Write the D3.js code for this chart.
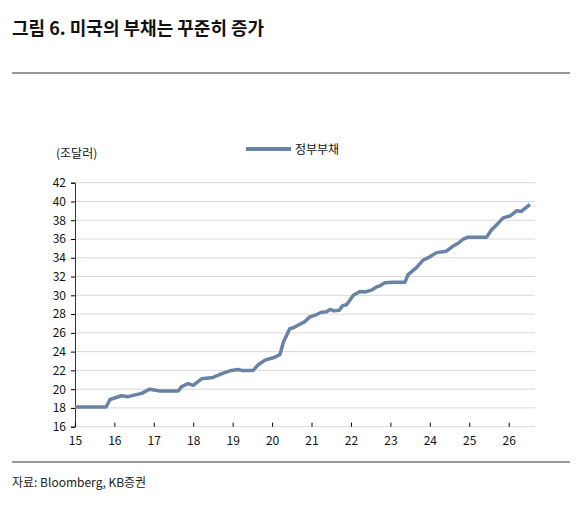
<!DOCTYPE html>
<html><head><meta charset="utf-8">
<script src="https://cdn.jsdelivr.net/npm/d3@7"></script>
<style>body{margin:0;background:#fff;font-family:"Noto Sans CJK KR","Noto Sans",sans-serif;}</style>
</head><body><svg id="c" width="582" height="527"></svg>
<script>
const years=[15,15.79,15.89,16.18,16.35,16.69,16.9,17.16,17.62,17.7,17.87,18.0,18.21,18.5,18.76,18.97,19.14,19.23,19.52,19.65,19.82,20.07,20.2,20.29,20.45,20.54,20.83,20.96,21.13,21.25,21.38,21.47,21.57,21.7,21.79,21.89,22.06,22.23,22.35,22.52,22.65,22.73,22.86,23.07,23.37,23.45,23.66,23.83,24.0,24.17,24.42,24.59,24.72,24.85,24.97,25.44,25.56,25.69,25.86,26.03,26.2,26.32,26.54];
const debt=[18.1,18.1,18.9,19.3,19.2,19.55,20.0,19.8,19.8,20.25,20.6,20.4,21.1,21.25,21.7,22.0,22.1,22.0,22.0,22.6,23.1,23.4,23.7,25.05,26.45,26.55,27.2,27.7,27.95,28.2,28.25,28.5,28.35,28.4,28.9,29.0,30.0,30.4,30.35,30.55,30.9,31.0,31.35,31.4,31.4,32.2,32.95,33.75,34.1,34.55,34.7,35.25,35.55,36.0,36.2,36.2,36.95,37.5,38.25,38.45,39.0,38.95,39.7];
const xTicks=[15,16,17,18,19,20,21,22,23,24,25,26];
const yTicks=d3.range(16,43,2);
const svg=d3.select("#c");
const x=d3.scaleLinear().domain([15,26]).range([74.9,508.7]);
const y=d3.scaleLinear().domain([16,42]).range([426.7,182.7]);
const f='"Noto Sans CJK KR","Noto Sans",sans-serif';
svg.append("text").attr("x",12).attr("y",35).attr("font-size",18).attr("font-weight","bold").attr("fill","#111").attr("font-family",f).text("그림 6. 미국의 부채는 꾸준히 증가");
svg.append("line").attr("x1",12).attr("x2",570).attr("y1",73).attr("y2",73).attr("stroke","#333").attr("stroke-width",1);
svg.append("line").attr("x1",12).attr("x2",570).attr("y1",462).attr("y2",462).attr("stroke","#333").attr("stroke-width",1);
svg.append("text").attr("x",12).attr("y",487).attr("font-size",12).attr("fill","#222").attr("font-family",f).text("자료: Bloomberg, KB증권");
// grid
svg.append("g").selectAll("line").data(yTicks).join("line").attr("x1",75).attr("x2",535).attr("y1",d=>y(d)).attr("y2",d=>y(d)).attr("stroke","#d9d9d9").attr("stroke-width",1);
const ya=svg.append("g").attr("transform","translate(75,0)").call(d3.axisLeft(y).tickValues(yTicks).tickSize(4).tickPadding(5));
ya.select(".domain").attr("stroke","#333");
ya.selectAll("text").attr("font-size",12).attr("font-family",f).attr("fill","#111");
const xa=svg.append("g").attr("transform","translate(0,426.7)").call(d3.axisBottom(x).tickValues(xTicks).tickSize(-4).tickPadding(10).tickFormat(d3.format("d")));
xa.select(".domain").remove();
xa.selectAll("text").attr("font-size",12).attr("font-family",f).attr("fill","#111");
svg.append("text").attr("x",56).attr("y",158).attr("font-size",12).attr("fill","#111").attr("font-family",f).text("(조달러)");
svg.append("line").attr("x1",246).attr("x2",291).attr("y1",149).attr("y2",149).attr("stroke","#6883a6").attr("stroke-width",4);
svg.append("text").attr("x",295).attr("y",154).attr("font-size",12).attr("fill","#111").attr("font-family",f).text("정부부채");
svg.append("path").datum(years.map((d,i)=>[d,debt[i]])).attr("fill","none").attr("stroke","#6883a6").attr("stroke-width",3.5).attr("stroke-linejoin","round").attr("d",d3.line().x(d=>x(d[0])).y(d=>y(d[1])));
</script></body></html>
